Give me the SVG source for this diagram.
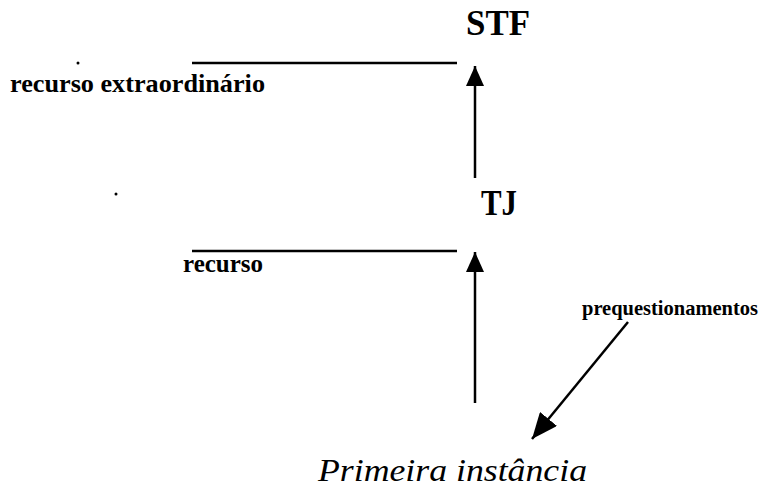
<svg xmlns="http://www.w3.org/2000/svg" width="768" height="488" viewBox="0 0 768 488">
<style>
.b{font-family:"Liberation Serif","Times New Roman",serif;font-weight:bold;fill:#000}
.t{font-size:35px}
.s{font-size:26px}
.it{font-family:"Liberation Serif","Times New Roman",serif;font-style:italic;font-size:32px;fill:#000}
.ln{stroke:#000;stroke-width:2.5;fill:none}
</style>
<defs>
<marker id="ah" viewBox="0 0 20 18" markerWidth="20" markerHeight="18" refX="20" refY="9" orient="auto" markerUnits="userSpaceOnUse">
<path d="M0,0 L20,9 L0,18 z" fill="#000"/>
</marker>
<marker id="ah2" viewBox="0 0 26 22" markerWidth="26" markerHeight="22" refX="26" refY="11" orient="auto" markerUnits="userSpaceOnUse">
<path d="M0,0 L26,11 L0,22 z" fill="#000"/>
</marker>
</defs>
<rect width="768" height="488" fill="#fff"/>
<g id="stf"><text class="b t" x="466" y="35" textLength="64" lengthAdjust="spacingAndGlyphs">STF</text></g>
<g id="tj"><text class="b t" x="481" y="215" textLength="36" lengthAdjust="spacingAndGlyphs">TJ</text></g>
<g id="primeira"><text class="it" x="318" y="481" textLength="269" lengthAdjust="spacingAndGlyphs">Primeira instância</text></g>
<g id="label-re">
<circle cx="78" cy="63" r="1.5" fill="#000"/>
<line class="ln" x1="192" y1="63" x2="457" y2="63"/>
<text class="b s" x="10" y="92" textLength="255" lengthAdjust="spacingAndGlyphs">recurso extraordinário</text>
</g>
<g id="label-recurso">
<circle cx="116" cy="194" r="1.5" fill="#000"/>
<line class="ln" x1="192" y1="251" x2="457" y2="251"/>
<text class="b s" x="183" y="272" textLength="80" lengthAdjust="spacingAndGlyphs">recurso</text>
</g>
<g id="label-preq"><text class="b" style="font-size:21px" x="582" y="315" textLength="176" lengthAdjust="spacingAndGlyphs">prequestionamentos</text></g>
<g id="connectors">
<line class="ln" x1="475" y1="178" x2="475" y2="66" marker-end="url(#ah)"/>
<line class="ln" x1="475" y1="403" x2="475" y2="252" marker-end="url(#ah)"/>
<line class="ln" x1="628" y1="322" x2="532" y2="439" marker-end="url(#ah2)"/>
</g>
</svg>
